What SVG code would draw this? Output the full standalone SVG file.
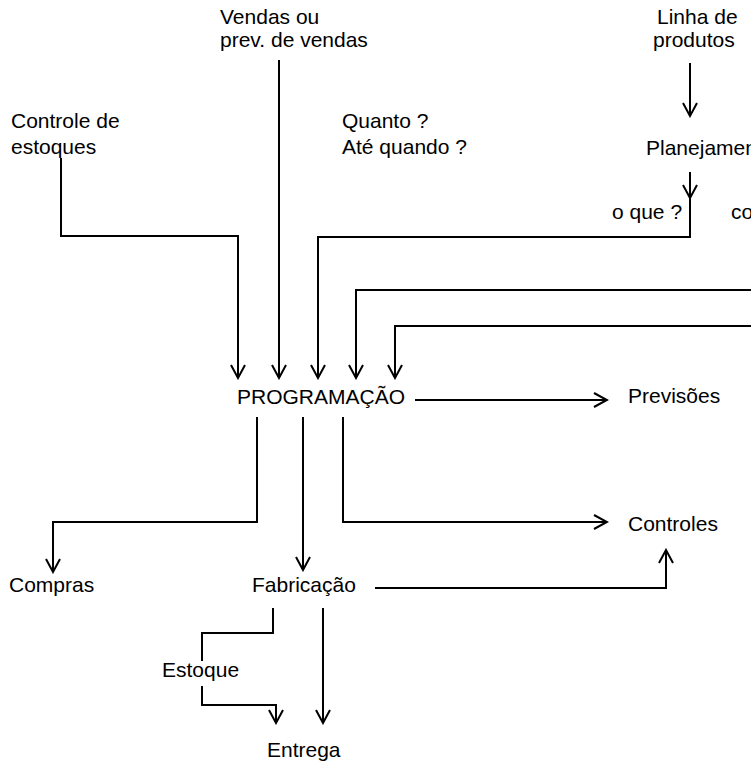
<svg xmlns="http://www.w3.org/2000/svg" width="751" height="761" viewBox="0 0 751 761">
<style>
text{font-family:"Liberation Sans",Arial,sans-serif;font-size:21px;fill:#000}
.c path{fill:none;stroke:#000;stroke-width:2}
.a{marker-end:url(#ah)}
</style>
<defs>
<marker id="ah" markerWidth="16" markerHeight="16" refX="14" refY="8" orient="auto" markerUnits="userSpaceOnUse" viewBox="0 0 16 16"><path d="M1,1 L14,8 L1,15" fill="none" stroke="#000" stroke-width="2"/></marker>
</defs>
<rect width="751" height="761" fill="#fff"/>
<g class="c" id="connectors">
<path class="a" d="M279,60 V378"/>
<path class="a" d="M61,158 V236 H238 V378"/>
<path class="a" d="M690,63 V116"/>
<path class="a" d="M690,172 V198"/>
<path class="a" d="M690,198 V237 H318 V378"/>
<path class="a" d="M751,290 H356 V378"/>
<path class="a" d="M751,326 H395 V378"/>
<path class="a" d="M415,400 H607"/>
<path class="a" d="M257,417 V522 H53 V572"/>
<path class="a" d="M303,417 V570"/>
<path class="a" d="M343,417 V522 H607"/>
<path class="a" d="M375,588 H666 V550"/>
<path d="M273,608 V633 H202 V661"/>
<path class="a" d="M202,686 V705 H276 V723"/>
<path class="a" d="M323,608 V723"/>
</g>
<g id="vendas"><text x="220" y="24">Vendas ou</text><text x="220" y="47">prev. de vendas</text></g>
<g id="linha"><text x="657" y="24">Linha de</text><text x="653" y="47">produtos</text></g>
<g id="controle-estoques"><text x="11" y="128">Controle de</text><text x="11" y="154">estoques</text></g>
<g id="quanto"><text x="342" y="128">Quanto ?</text><text x="342" y="154">Até quando ?</text></g>
<g id="planejamento"><text x="646" y="155">Planejamen</text></g>
<g id="oque"><text x="612" y="219">o que ?</text></g>
<g id="como"><text x="731" y="219">co</text></g>
<g id="programacao"><text x="237" y="404">PROGRAMAÇÃO</text></g>
<g id="previsoes"><text x="628" y="403">Previsões</text></g>
<g id="controles"><text x="628" y="531">Controles</text></g>
<g id="compras"><text x="9" y="592">Compras</text></g>
<g id="fabricacao"><text x="252" y="592">Fabricação</text></g>
<g id="estoque"><text x="162" y="677">Estoque</text></g>
<g id="entrega"><text x="267" y="757">Entrega</text></g>
</svg>
